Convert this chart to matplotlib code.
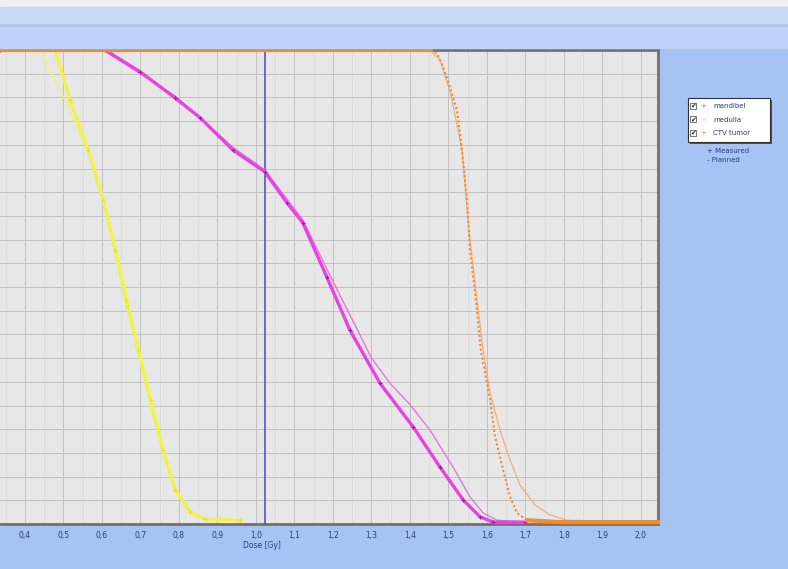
import matplotlib
matplotlib.use("Agg")
import matplotlib.pyplot as plt
from matplotlib.patches import Rectangle
import numpy as np

# dose [Gy] / volume [%]
medulla_meas_dose = [0.335, 0.478, 0.517, 0.564, 0.603, 0.634, 0.662, 0.694, 0.725, 0.758, 0.790, 0.829, 0.868, 0.958]
medulla_meas_vol = [100, 100, 89.5, 78.9, 68.4, 57.8, 47.3, 36.7, 26.2, 15.6, 7.2, 2.5, 1.1, 0.8]
medulla_plan_dose = [0.335, 0.440, 0.500, 0.560, 0.606, 0.638, 0.666, 0.698, 0.729, 0.761, 0.793, 0.832, 0.870, 0.958]
medulla_plan_vol = [100, 100, 90.0, 79.0, 68.4, 57.8, 47.3, 36.7, 26.2, 15.6, 7.2, 2.5, 1.1, 0.8]

mandibel_meas_dose = [0.335, 0.608, 0.699, 0.790, 0.855, 0.940, 1.023, 1.081, 1.122, 1.184, 1.244, 1.322, 1.408, 1.478, 1.538, 1.582, 1.616, 1.699]
mandibel_meas_vol = [100, 100, 95.4, 89.9, 85.7, 78.9, 74.3, 67.7, 63.5, 52.1, 40.9, 29.7, 20.5, 12.0, 5.1, 1.5, 0.4, 0.4]
mandibel_plan_dose = [0.335, 0.603, 0.790, 0.940, 1.023, 1.122, 1.192, 1.257, 1.300, 1.350, 1.400, 1.452, 1.512, 1.556, 1.590, 1.626, 1.699]
mandibel_plan_vol = [100, 100, 90.3, 79.5, 74.7, 64.1, 52.5, 42.0, 35.0, 29.5, 25.2, 19.8, 12.0, 5.7, 2.3, 0.8, 0.4]

ctv_meas_dose = [0.335, 1.452, 1.470, 1.486, 1.504, 1.522, 1.535, 1.548, 1.556, 1.571, 1.584, 1.608, 1.621, 1.642, 1.660, 1.678, 1.704, 1.790, 2.044]
ctv_meas_vol = [100, 100, 99.4, 96.4, 92.2, 87.3, 78.9, 68.4, 57.8, 47.3, 36.7, 26.2, 18.4, 11.4, 5.7, 2.3, 0.8, 0.4, 0.4]
ctv_plan_dose = [0.335, 1.452, 1.478, 1.506, 1.535, 1.553, 1.574, 1.590, 1.608, 1.634, 1.660, 1.686, 1.725, 1.764, 1.808, 2.044]
ctv_plan_vol = [100, 100, 97.9, 90.7, 78.9, 62.0, 47.3, 36.7, 27.6, 19.8, 13.5, 8.2, 4.0, 1.9, 0.8, 0.4]

ref_dose = 1.023
x_ticks = [0.4, 0.5, 0.6, 0.7, 0.8, 0.9, 1.0, 1.1, 1.2, 1.3, 1.4, 1.5, 1.6, 1.7, 1.8, 1.9, 2.0]
legend_names = ["mandibel", "medulla", "CTV tumor"]
legend_colors = ["#e63ce0", "#f2f23a", "#f08c30"]

W, H = 788, 569
fig = plt.figure(figsize=(W / 100, H / 100), dpi=100)
fig.patch.set_facecolor("#a6c4f3")

# window bands at the top
fig.patches.append(Rectangle((0, 1 - 7 / H), 1, 7 / H, transform=fig.transFigure, color="#eef0f0", zorder=0))
fig.patches.append(Rectangle((0, 1 - 25 / H), 1, 18 / H, transform=fig.transFigure, color="#c6d9f6", zorder=0))
fig.patches.append(Rectangle((0, 1 - 48 / H), 1, 23 / H, transform=fig.transFigure, color="#bcd2f6", zorder=0))
fig.patches.append(Rectangle((0, 1 - 26 / H), 1, 1.5 / H, transform=fig.transFigure, color="#aec6ec", zorder=0))

ax = fig.add_axes([0, 45 / H, 658 / W, 474 / H])
ax.set_facecolor("#e7e7e7")
ax.set_xlim(0.3351, 2.0442)
ax.set_ylim(0, 100)

ax.set_xticks(x_ticks)
ax.set_xticklabels([f"{t:.1f}".replace(".", ",") for t in x_ticks], fontsize=5.5, color="#2c3c80")
ax.set_xticks(np.arange(0.35, 2.05, 0.1), minor=True)
ax.set_yticks(np.arange(0, 101, 5))
ax.set_yticklabels([])
ax.tick_params(axis="both", which="both", length=0, pad=5)
ax.grid(True, which="major", color="#c0c0c0", lw=0.7)
ax.grid(True, which="minor", axis="x", color="#dadada", lw=0.5)
ax.set_axisbelow(True)
for side in ["top", "right", "bottom"]:
    ax.spines[side].set_color("#727272")
    ax.spines[side].set_linewidth(2)
ax.spines["left"].set_visible(False)

ax.axvline(ref_dose, color="#5a4ec8", lw=1.2, zorder=3)

# planned: thin lines, measured: thick lines with + marks
ax.plot(medulla_plan_dose, medulla_plan_vol, color="#f2f27a", lw=1.0, zorder=4)
ax.plot(medulla_meas_dose, medulla_meas_vol, color="#f2f24e", lw=2.4, zorder=5, clip_on=False)
ax.plot(medulla_meas_dose, medulla_meas_vol, color="#e4e43a", lw=0, marker="+", ms=3, zorder=6)

ax.plot(mandibel_plan_dose, mandibel_plan_vol, color="#e07ad8", lw=1.0, zorder=4)
ax.plot(mandibel_meas_dose, mandibel_meas_vol, color="#e842e2", lw=2.4, zorder=5, clip_on=False)
ax.plot(mandibel_meas_dose, mandibel_meas_vol, color="#a0209a", lw=0, marker="+", ms=3, mew=0.8, zorder=6)

ax.plot(ctv_plan_dose, ctv_plan_vol, color="#f4ae72", lw=0.9, zorder=4)
ax.plot(ctv_meas_dose, ctv_meas_vol, color="#f08a38", lw=1.5, ls=(0, (1, 1.2)), zorder=5)
ax.plot(ctv_meas_dose[:2], ctv_meas_vol[:2], color="#f08c30", lw=3, zorder=7, clip_on=False)
ax.plot(ctv_meas_dose[-3:], ctv_meas_vol[-3:], color="#f08c30", lw=3, zorder=7, clip_on=False)

fig.text(262 / W, 1 - 546 / H, "Dose [Gy]", fontsize=5.5, color="#2c3c80", ha="center", va="center")

# legend drawn by hand
fig.patches.append(Rectangle((690 / W, 1 - 144 / H), 82 / W, 44 / H, transform=fig.transFigure,
                             facecolor="#505050", edgecolor="none", zorder=1))
fig.patches.append(Rectangle((688 / W, 1 - 142 / H), 82 / W, 44 / H, transform=fig.transFigure,
                             facecolor="white", edgecolor="#303030", lw=0.8, zorder=2))
for i, (name, col) in enumerate(zip(legend_names, legend_colors)):
    yy = 1 - (106 + 13.5 * i) / H
    fig.patches.append(Rectangle((690 / W, yy - 3 / H), 6 / W, 6 / H, transform=fig.transFigure,
                                 facecolor="white", edgecolor="#404040", lw=0.5, zorder=3))
    fig.text(693 / W, yy, "\u2714", fontsize=5, color="#202020", ha="center", va="center", zorder=4)
    fig.text(703 / W, yy, "+", fontsize=5, color=col, ha="center", va="center", zorder=4)
    fig.text(713 / W, yy, name, fontsize=5, color="#2c3c80", ha="left", va="center", zorder=4)
fig.text(707 / W, 1 - 151 / H, "+ Measured", fontsize=5, color="#2c3c80", ha="left", va="center")
fig.text(707 / W, 1 - 160 / H, "- Planned", fontsize=5, color="#2c3c80", ha="left", va="center")

fig.savefig("out.png", dpi=100, facecolor=fig.get_facecolor())
